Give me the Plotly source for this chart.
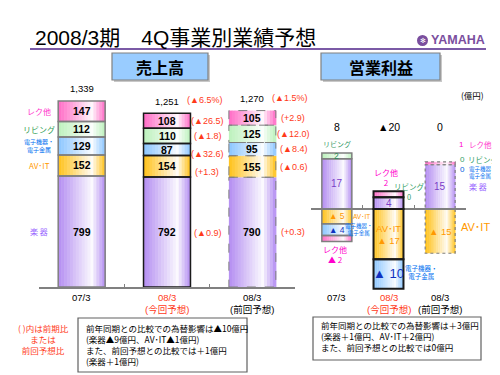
import plotly.graph_objects as go

W, H = 500, 375
def X(px): return px / W
def Y(py): return 1 - py / H

JP = "Noto Sans CJK JP"
LAT = "Liberation Sans, Noto Sans CJK JP"

# ---------------- data ----------------
categories = ["07/3", "08/3", "08/3"]
category_notes = ["", "(今回予想)", "(前回予想)"]
series_names = ["楽 器", "AV･IT", "電子機器・<br>電子金属", "リビング", "レク他"]

sales_gakki = [799, 792, 790]
sales_av_it = [152, 154, 155]
sales_denshi = [129, 87, 95]
sales_living = [112, 110, 125]
sales_rec = [147, 108, 105]
sales_total_labels = ["1,339", "1,251", "1,270"]
sales_total_change = ["", "(▲6.5%)", "(▲1.5%)"]
sales_change_current = ["(▲0.9)", "(+1.3)", "(▲32.6)", "(▲1.8)", "(▲26.5)"]
sales_change_previous = ["(+0.3)", "(▲0.6)", "(▲8.4)", "(▲12.0)", "(+2.9)"]

profit_gakki = [17, 4, 15]
profit_av_it = [-5, -17, -15]
profit_denshi = [-4, -10, 0]
profit_living = [2, 0, 0]
profit_rec = [-2, 2, 1]
profit_total_labels = ["8", "▲20", "0"]

note_left = ["( )内は前期比", "または", "前回予想比"]
note_sales = ["前年同期との比較での為替影響は▲10億円", "(楽器▲9億円、AV･IT▲1億円)",
              "また、前回予想との比較では＋1億円", "(楽器＋1億円)"]
note_profit = ["前年同期との比較での為替影響は＋3億円", "(楽器＋1億円、AV･IT＋2億円)",
               "また、前回予想との比較では0億円"]

# ---------------- styles ----------------
BASE_COLORS = ["#B48EF2", "#FFC21A", "#8CC6FF", "#BDF2BD", "#FF6CC6"]
LABEL_COLORS = ["#9966FF", "#FF9900", "#0070F0", "#33A055", "#FF33CC"]
RED = "#FF3A1A"
sales_border = [("#7F7F7F", 1.5, "solid"), ("#1A1A1A", 1.5, "solid"), ("#808080", 1, "dash")]
profit_border = [("#7F7F7F", 1.5, "solid"), ("#1A1A1A", 2, "solid"), ("#808080", 1.2, "dot")]

def hex2rgb(h):
    h = h.lstrip("#")
    return [int(h[i:i + 2], 16) for i in (0, 2, 4)]

def mix(h, f):
    r, g, b = hex2rgb(h)
    return "rgb(%d,%d,%d)" % (r + (255 - r) * f, g + (255 - g) * f, b + (255 - b) * f)

def shade(t):
    peak = 0.72
    if t <= peak:
        return 0.95 * t / peak
    return 0.95 * (1 - t) / (1 - peak)

def stack(vals_by_series):
    n = len(vals_by_series[0])
    pos, neg = [0] * n, [0] * n
    out = []
    for vals in vals_by_series:
        b = []
        for i, v in enumerate(vals):
            if v >= 0:
                b.append(pos[i]); pos[i] += v
            else:
                b.append(neg[i]); neg[i] += v
        out.append(b)
    return out

fig = go.Figure()
shapes = []
anns = []

def ann(text, x, y, xref="paper", yref="paper", size=9, color="black", family=JP,
        xanchor="center", yanchor="middle", xshift=0, yshift=0, align="center"):
    anns.append(dict(text=text, x=x, y=y, xref=xref, yref=yref, showarrow=False,
                     font=dict(size=size, color=color, family=family),
                     xanchor=xanchor, yanchor=yanchor, xshift=xshift, yshift=yshift,
                     align=align, borderpad=0))

def add_stacked(vals_by_series, xa, ya, width, borders, n_strips=16):
    bases = stack(vals_by_series)
    xs, ys, bs, sidx = [], [], [], []
    for s, (vals, b) in enumerate(zip(vals_by_series, bases)):
        for i, (v, base) in enumerate(zip(vals, b)):
            if v == 0:
                continue
            xs.append(i); ys.append(v); bs.append(base); sidx.append(s)
    for k in range(n_strips):
        t = (k + 0.5) / n_strips
        cols = [mix(BASE_COLORS[s], shade(t)) for s in sidx]
        fig.add_trace(go.Bar(x=xs, y=ys, base=bs, width=width / n_strips * 1.2,
                             offset=-width / 2 + k * width / n_strips,
                             marker=dict(color=cols, line=dict(width=0)),
                             xaxis=xa, yaxis=ya, showlegend=False, hoverinfo="skip"))
    for x, v, b in zip(xs, ys, bs):
        c, w, d = borders[x]
        shapes.append(dict(type="rect", xref=xa, yref=ya, x0=x - width / 2, x1=x + width / 2,
                           y0=b, y1=b + v, line=dict(color=c, width=w, dash=d),
                           fillcolor="rgba(0,0,0,0)", layer="above"))
    return bases

# ---------------- left chart: sales ----------------
sales = [sales_gakki, sales_av_it, sales_denshi, sales_living, sales_rec]
SW = 0.55
sbases = add_stacked(sales, "x", "y", SW, sales_border)
xs = list(range(len(categories)))
stotals = [sum(s[i] for s in sales) for i in xs]

for s, (vals, b) in enumerate(zip(sales, sbases)):
    for i in xs:
        ann("<b>%d</b>" % vals[i], i, b[i] + vals[i] / 2, "x", "y", size=10.5, family=LAT)
    # series labels at the left (aligned with 07/3 segments)
    ann(series_names[s], X(31), b[0] + sales[s][0] / 2, "paper", "y",
        size=6 if "<br>" in series_names[s] else 8, color=LABEL_COLORS[s])
    ann(sales_change_current[s], 1, b[1] + vals[1] / 2, "x", "y", size=9, color=RED,
        family=LAT, xshift=40, yshift=[-1, -6, -4, 0, 0][s])
    ann(sales_change_previous[s], 2, b[2] + vals[2] / 2, "x", "y", size=9, color=RED,
        family=LAT, xshift=41)
for i in xs:
    ann(sales_total_labels[i], i, stotals[i], "x", "y", size=9.5, family=LAT, yshift=12)
    if sales_total_change[i]:
        ann(sales_total_change[i], i, stotals[i], "x", "y", size=9, color=RED, family=LAT,
            xshift=37, yshift=13)
    lab = categories[i] + ("<br>" + category_notes[i] if category_notes[i] else "")
    ann(lab, i, Y(283), "x", "paper", size=9.5, color=RED if i == 1 else "black",
        family=LAT, yanchor="top")

# ---------------- right chart: operating profit ----------------
profit = [profit_gakki, profit_av_it, profit_denshi, profit_living, profit_rec]
PW = 0.58
pbases = add_stacked(profit, "x2", "y2", PW, profit_border)

def fmt(v):
    return "▲ %d" % abs(v) if v < 0 else "%d" % v

PURPLE_TXT = "#7A3CC8"
DARK_BLUE = "#1030C0"
for i in xs:
    ann(profit_total_labels[i], i, Y(119), "x2", "paper", size=10.5, family=LAT)
    lab = categories[i] + ("<br>" + category_notes[i] if category_notes[i] else "")
    ann(lab, i, Y(283), "x2", "paper", size=9.5, color=RED if i == 1 else "black",
        family=LAT, yanchor="top")
    # 楽器
    ann(fmt(profit_gakki[i]), i, pbases[0][i] + profit_gakki[i] / 2, "x2", "y2", size=10,
        color=PURPLE_TXT, family=LAT)
    # AV-IT
    t = fmt(profit_av_it[i])
    if i == 1:
        t = "AV･IT<br>" + t
    ann(t, i, pbases[1][i] + profit_av_it[i] / 2, "x2", "y2", size=9.5 if i else 8.5,
        color="#FF9900", family=LAT)
    # 電子
    if profit_denshi[i] != 0:
        ann(fmt(profit_denshi[i]), i, pbases[2][i] + profit_denshi[i] / 2, "x2", "y2",
            size=13 if i == 1 else 8.5, color=DARK_BLUE, family=LAT)

# 07/3 extra labels
ann("リビング", 0, pbases[3][0] + profit_living[0], "x2", "y2", size=7, color="#339966",
    yanchor="bottom", yshift=3)
ann(fmt(profit_living[0]), 0, pbases[3][0] + profit_living[0] / 2, "x2", "y2", size=8.5,
    color="#2E8B57", family=LAT)
ann("AV･IT", 0, pbases[1][0] + profit_av_it[0] / 2, "x2", "y2", size=6.5, color="#FF9900",
    family=LAT, xshift=25)
ann("電子機器・<br>電子金属", 0, pbases[2][0] + profit_denshi[0] / 2, "x2", "y2", size=5.5,
    color="#0070F0", xshift=22)
ann("レク他<br>" + fmt(profit_rec[0]), 0, pbases[4][0] + profit_rec[0], "x2", "y2",
    size=8, color="#FF00CC", yanchor="top", yshift=-2, xshift=-2)
# 08/3 current extra labels
ann("レク他<br>" + fmt(profit_rec[1]), 1, pbases[4][1] + profit_rec[1], "x2", "y2",
    size=8, color="#FF00CC", yanchor="bottom", yshift=2, xshift=-3)
ann("リビング<br>" + fmt(profit_living[1]), 1, pbases[4][1] + profit_rec[1], "x2", "y2",
    size=7.5, color="#33A066", xshift=21, yshift=0)
ann("電子機器・<br>電子金属", 1, pbases[2][1] + profit_denshi[1] / 2, "x2", "y2", size=6.5,
    color="#0070F0", xshift=33, yshift=2)
# 08/3 previous extra labels
ann("AV･IT", 2, pbases[1][2] + profit_av_it[2] / 2, "x2", "y2", size=11, color="#FF9900",
    family=LAT, xshift=35, yshift=4)
ann(fmt(profit_rec[2]), X(453), Y(137), size=8, color="#FF00CC", family=LAT)
ann("レク他", X(460), Y(137), size=7.5, color="#FF33CC", xanchor="left")
ann(fmt(profit_living[2]), X(454), Y(151), size=8, color="#33A066", family=LAT)
ann("リビング", X(459), Y(151), size=7.5, color="#33A066", xanchor="left")
ann(fmt(profit_denshi[2]), X(454), Y(162), size=8, color="#0060E0", family=LAT)
ann("電子機器・<br>電子金属", X(460), Y(164), size=5.5, color="#0070F0", xanchor="left",
    align="left")
ann("楽 器", X(460), Y(178), size=8, color="#9966FF", xanchor="left")
ann("(億円)", X(464), Y(87), size=8.5)

# ---------------- header / boxes / notes ----------------
ann("2008/3期　4Q事業別業績予想", X(26), Y(30), size=21, family=LAT, xanchor="left")
shapes.append(dict(type="line", xref="paper", yref="paper", x0=X(22), x1=X(478),
                   y0=Y(41), y1=Y(41), line=dict(color="#7B5AA6", width=2)))
shapes.append(dict(type="circle", xref="paper", yref="paper", x0=X(409), x1=X(420),
                   y0=Y(27), y1=Y(38), fillcolor="#7A4E9E", line=dict(width=0)))
ann("✻", X(414.5), Y(32.5), size=7, color="white", family="DejaVu Sans")
ann("<b>YAMAHA</b>", X(478), Y(32), size=12.5, color="#7A4E9E", family=LAT, xanchor="right")

for (x0, x1, txt) in [(104, 200, "売上高"), (313, 432, "営業利益")]:
    shapes.append(dict(type="rect", xref="paper", yref="paper", x0=X(x0 + 2), x1=X(x1 + 2),
                       y0=Y(74), y1=Y(47), fillcolor="#C8C8C8", line=dict(width=0)))
    shapes.append(dict(type="rect", xref="paper", yref="paper", x0=X(x0), x1=X(x1),
                       y0=Y(72), y1=Y(45), fillcolor="#99CCFF",
                       line=dict(color="#808080", width=1.2)))
    ann("<b>%s</b>" % txt, X((x0 + x1) / 2), Y(59), size=16)

ann("<br>".join(note_left), X(35), Y(331), size=8.5, color=RED)
shapes.append(dict(type="rect", xref="paper", yref="paper", x0=X(70), x1=X(239),
                   y0=Y(364), y1=Y(310), line=dict(color="#606060", width=1.2)))
ann("<br>".join(note_sales), X(77), Y(336), size=8.5, xanchor="left", align="left")
shapes.append(dict(type="rect", xref="paper", yref="paper", x0=X(305), x1=X(473),
                   y0=Y(352), y1=Y(309), line=dict(color="#606060", width=1.2)))
ann("<br>".join(note_profit), X(312), Y(328), size=8.5, xanchor="left", align="left")

# ---------------- axes ----------------
S_SCALE = 186 / 1339.0    # px per unit
P_SCALE = 2.95
S_TOP, S_BASE = 75, 279
P_TOP, P_BOT, P_BASE = 93, 292, 201

fig.update_layout(
    width=W, height=H, margin=dict(l=0, r=0, t=0, b=0),
    paper_bgcolor="white", plot_bgcolor="rgba(0,0,0,0)",
    barmode="overlay", showlegend=False,
    xaxis=dict(domain=[X(31), X(287)], range=[-0.5, 2.5], anchor="y",
               tickvals=[-0.5, 0.5, 1.5, 2.5], showticklabels=False, ticks="inside",
               ticklen=3, tickcolor="#808080", showline=True, linecolor="#808080",
               linewidth=1.5, showgrid=False, zeroline=False, fixedrange=True),
    yaxis=dict(domain=[Y(S_BASE), Y(S_TOP)], range=[0, (S_BASE - S_TOP) / S_SCALE],
               visible=False, showgrid=False, zeroline=False),
    xaxis2=dict(domain=[X(303), X(458)], range=[-0.5, 2.5], anchor="free",
                position=Y(P_BASE), tickvals=[-0.5, 0.5, 1.5, 2.5], showticklabels=False,
                ticks="inside", ticklen=3, tickcolor="#808080", showline=True,
                linecolor="#808080", linewidth=1.5, showgrid=False, zeroline=False),
    yaxis2=dict(domain=[Y(P_BOT), Y(P_TOP)],
                range=[-(P_BOT - P_BASE) / P_SCALE, (P_BASE - P_TOP) / P_SCALE],
                anchor="x2", visible=False, showgrid=False, zeroline=False),
    shapes=shapes, annotations=anns,
)

fig.write_html("out.html")
